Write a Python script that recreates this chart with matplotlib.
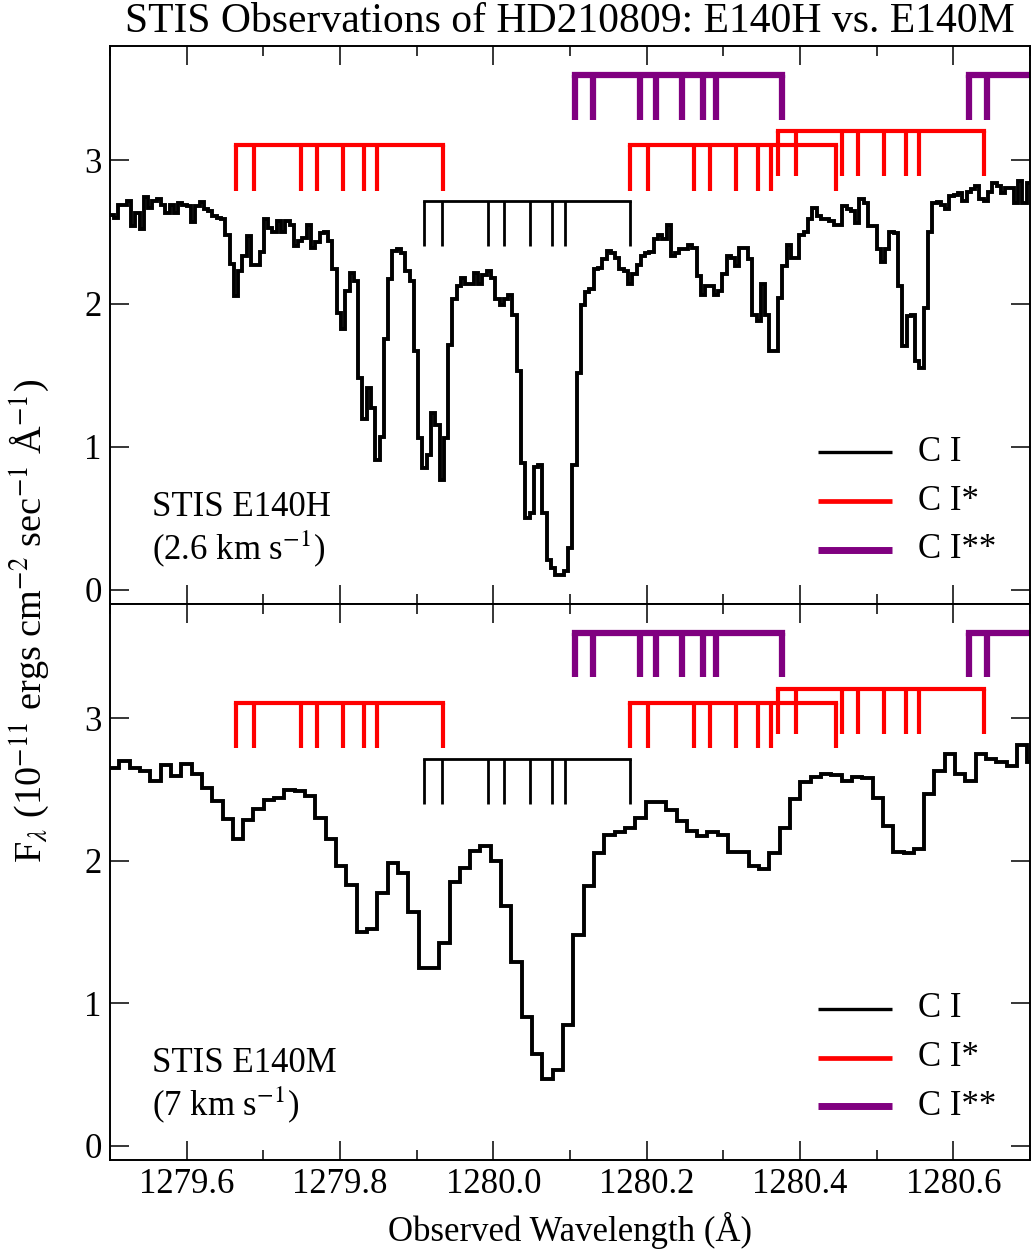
import numpy as np
import matplotlib
matplotlib.use('Agg')
import matplotlib.pyplot as plt
from matplotlib.ticker import MultipleLocator, FormatStrFormatter

plt.rcParams['font.family'] = ['Liberation Serif', 'DejaVu Serif']
plt.rcParams['mathtext.fontset'] = 'stix'

#################### DATA ######################
# STIS E140H, fluxes in 1e-11 ergs/cm2/s/A, uniform bins
h_start = 1279.4995
h_dw = 0.005589
h_flux = [2.62, 2.60, 2.69, 2.69, 2.72, 2.54, 2.63, 2.52, 2.745, 2.67,
          2.715, 2.73, 2.69, 2.63, 2.69, 2.63, 2.70, 2.69, 2.68, 2.57,
          2.68, 2.71, 2.66, 2.65, 2.61, 2.60, 2.59, 2.48, 2.28, 2.05,
          2.23, 2.33, 2.47, 2.27, 2.27, 2.36, 2.59, 2.53, 2.50, 2.58,
          2.50, 2.58, 2.55, 2.40, 2.44, 2.46, 2.55, 2.39, 2.43, 2.49,
          2.50, 2.44, 2.24, 1.935, 1.82, 2.09, 2.215, 2.16, 1.48, 1.19,
          1.41, 1.27, 0.91, 1.07, 1.75, 2.17, 2.37, 2.38, 2.355, 2.23,
          2.16, 1.67, 1.06, 0.85, 0.94, 1.235, 1.15, 0.77, 1.06, 1.71,
          2.03, 2.12, 2.18, 2.14, 2.14, 2.215, 2.14, 2.20, 2.23, 2.18,
          2.03, 1.99, 2.03, 2.06, 1.92, 1.53, 0.886, 0.50, 0.535, 0.86,
          0.87, 0.535, 0.21, 0.15, 0.10, 0.10, 0.13, 0.29, 0.87, 1.515,
          1.99, 2.08, 2.10, 2.24, 2.25, 2.31, 2.37, 2.35, 2.32, 2.24,
          2.23, 2.14, 2.21, 2.27, 2.33, 2.355, 2.36, 2.45, 2.48, 2.45,
          2.55, 2.33, 2.355, 2.38, 2.38, 2.41, 2.39, 2.19, 2.06, 2.12,
          2.12, 2.06, 2.09, 2.21, 2.33, 2.32, 2.26, 2.39, 2.39, 2.31,
          1.92, 1.88, 2.14, 1.92, 1.67, 1.67, 2.04, 2.26, 2.41, 2.32,
          2.32, 2.48, 2.50, 2.59, 2.67, 2.61, 2.59, 2.59, 2.575, 2.55,
          2.55, 2.685, 2.66, 2.645, 2.56, 2.73, 2.70, 2.54, 2.54, 2.38,
          2.29, 2.38, 2.50, 2.49, 2.12, 1.70, 1.91, 1.92, 1.60, 1.55,
          1.97, 2.50, 2.70, 2.71, 2.69, 2.66, 2.75, 2.76, 2.77, 2.72,
          2.78, 2.80, 2.82, 2.73, 2.72, 2.78, 2.84, 2.82, 2.77, 2.81,
          2.81, 2.70, 2.855, 2.70, 2.84, 2.855]
# STIS E140M
m_start = 1279.4987
m_dw = 0.01346
m_flux = [2.65, 2.70, 2.65, 2.63, 2.56, 2.67, 2.595, 2.68, 2.605, 2.51,
          2.42, 2.29, 2.15, 2.285, 2.36, 2.425, 2.44, 2.495, 2.485, 2.455,
          2.30, 2.15, 1.965, 1.83, 1.50, 1.52, 1.77, 1.98, 1.91, 1.64,
          1.25, 1.25, 1.42, 1.85, 1.95, 2.065, 2.105, 1.995, 1.685, 1.29,
          0.90, 0.64, 0.47, 0.53, 0.85, 1.48, 1.82, 2.05, 2.18, 2.20,
          2.23, 2.30, 2.41, 2.41, 2.355, 2.275, 2.205, 2.175, 2.20, 2.18,
          2.06, 2.06, 1.965, 1.94, 2.05, 2.23, 2.43, 2.555, 2.585, 2.61,
          2.60, 2.56, 2.585, 2.58, 2.44, 2.245, 2.06, 2.05, 2.08, 2.47,
          2.63, 2.75, 2.61, 2.56, 2.75, 2.71, 2.695, 2.665, 2.81, 2.69]

# line identifications: rest wavelengths and velocity components (km/s)
c_kms = 299792.458
comp_vel = [-52.9, -47.4, -33.3, -28.4, -20.4, -13.8, -9.9, 10.1]
ci_rest = [1280.1353]
ci_top = [2.715]
cis_rest = [1279.8907, 1280.4043, 1280.5970]
cis_top = [3.105, 3.105, 3.205]
ciss_rest = [1280.3331, 1280.8465]
ciss_top = [3.60, 3.60]
tick_len = 0.315

panel_names = ['STIS E140H', 'STIS E140M']
panel_res = [r'(2.6 km s$^{-1}$)', r'(7 km s$^{-1}$)']
leg_labels = ['C I', 'C I*', 'C I**']
#########################################################

fs = 25
fig = plt.figure(figsize=(10.32, 12.54), dpi=100)
ax1 = fig.add_axes([0.1066, 0.5183, 0.8914, 0.4450])
ax2 = fig.add_axes([0.1066, 0.0750, 0.8914, 0.4433], sharex=ax1)


def bracket(ax, rest, top, color, lw):
    wl = [rest * (1 + v / c_kms) for v in comp_vel]
    ax.hlines(top, wl[0], wl[-1], color=color, lw=lw, capstyle='projecting')
    ax.vlines(wl, top - tick_len, top, color=color, lw=lw)


spectra = [(h_start, h_dw, h_flux), (m_start, m_dw, m_flux)]
for i, ax in enumerate([ax1, ax2]):
    st, dw, fl = spectra[i]
    edges = st + dw * np.arange(len(fl) + 1)
    ax.stairs(fl, edges, baseline=None, color='black', lw=2.8)

    for r, t in zip(ci_rest, ci_top):
        bracket(ax, r, t, 'black', 2.0)
    for r, t in zip(cis_rest, cis_top):
        bracket(ax, r, t, 'red', 3.0)
    for r, t in zip(ciss_rest, ciss_top):
        bracket(ax, r, t, 'purple', 4.5)

    # key
    for yy, lab, col, lw in zip([0.272, 0.184, 0.097], leg_labels,
                                ['black', 'red', 'purple'], [2.4, 3.4, 5.0]):
        ax.plot([0.7696, 0.85], [yy, yy], transform=ax.transAxes, color=col,
                lw=lw, solid_capstyle='butt')
        ax.text(0.878, yy, lab, transform=ax.transAxes, va='center',
                fontsize=fs)

    ax.text(0.0457, 0.158, panel_names[i], transform=ax.transAxes, fontsize=fs)
    ax.text(0.0457, 0.080, panel_res[i], transform=ax.transAxes, fontsize=fs)

    ax.set_xlim(1279.5, 1280.7)
    ax.set_ylim(-0.1, 3.8)
    ax.xaxis.set_major_locator(MultipleLocator(0.2))
    ax.xaxis.set_minor_locator(MultipleLocator(0.1))
    ax.yaxis.set_major_locator(MultipleLocator(1))
    ax.tick_params(which='both', direction='in', top=True, right=True,
                   labelsize=fs, width=1.1)
    ax.tick_params(which='major', length=13.5, pad=6)
    ax.tick_params(which='minor', length=7)
    for sp in ax.spines.values():
        sp.set_linewidth(1.4)

ax1.tick_params(labelbottom=False)
ax2.xaxis.set_major_formatter(FormatStrFormatter('%.1f'))

fig.text(0.552, 0.983, 'STIS Observations of HD210809: E140H vs. E140M',
         ha='center', va='center', fontsize=30)
fig.text(0.552, 0.019, 'Observed Wavelength (Å)', ha='center',
         va='center', fontsize=fs)
fig.text(0.029, 0.5044,
         r'F$_\lambda$ (10$^{-11}$ ergs cm$^{-2}$ sec$^{-1}$ Å$^{-1}$)',
         ha='center', va='center', rotation=90, fontsize=27.5)

plt.savefig('out.png', dpi=100)
plt.close()
